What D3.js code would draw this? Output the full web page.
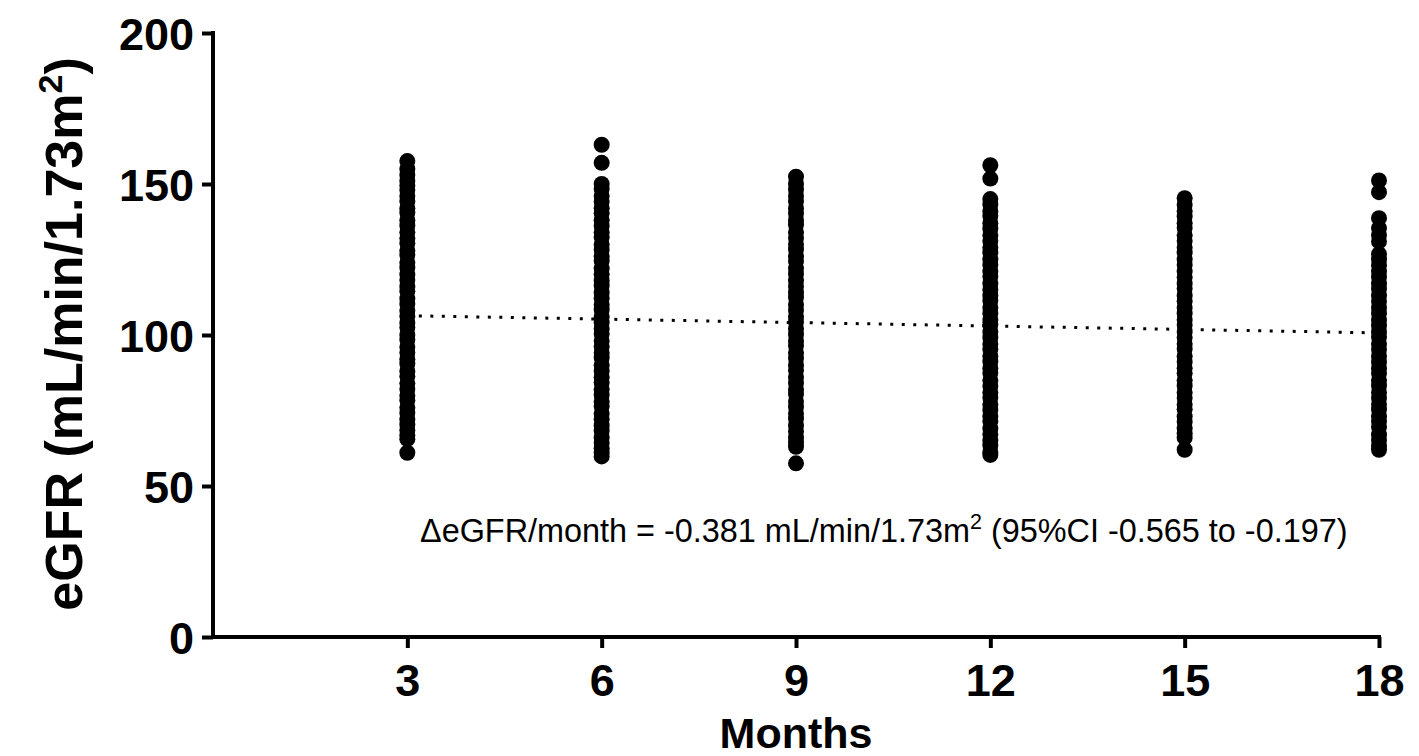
<!DOCTYPE html>
<html>
<head>
<meta charset="utf-8">
<script src="https://cdn.jsdelivr.net/npm/d3@7"></script>
<style>
  body { margin: 0; background: #fff; }
  svg { display: block; font-family: "Liberation Sans", Arial, sans-serif; }
</style>
</head>
<body>
<div class="chart"></div>
<script>
// eGFR values, one list per visit month
var months = [3, 6, 9, 12, 15, 18];
var egfr3 = [157.6, 155, 153, 151, 149.5, 148, 146, 144.3, 142, 140.5, 138, 136.2, 134, 132, 130.4, 128, 126.5, 124, 122.3, 120, 118.2, 116, 114.5, 112, 110.3, 108, 106.2, 104, 102.5, 100, 98.4, 96, 94.2, 92, 90.5, 88, 86.3, 84, 82.1, 80, 78.4, 76, 74.2, 72, 70.3, 68.5, 66.8, 65.5, 61];
var egfr6 = [163, 157, 150, 148.4, 146, 144.2, 142, 140.3, 138, 136.1, 134, 132.4, 130, 128.2, 126, 124.5, 122, 120.1, 118, 116.3, 114, 112.2, 110, 108.4, 106, 104.1, 102, 100.3, 98, 96.2, 94, 92.5, 90, 88.1, 86, 84.3, 82, 80.2, 78, 76.4, 74, 72.1, 70, 68.3, 66, 64.2, 62.5, 61, 59.8];
var egfr9 = [152.4, 150, 148.1, 146, 144.3, 142, 140.2, 138, 136.5, 134, 132.1, 130, 128.3, 126, 124.4, 122, 120.2, 118, 116.1, 114, 112.4, 110, 108.2, 106, 104.3, 102, 100.1, 98, 96.4, 94, 92.2, 90, 88.3, 86, 84.1, 82, 80.5, 78, 76.2, 74, 72.3, 70, 68.1, 66, 64.5, 63, 57.5];
var egfr12 = [156.2, 151.8, 145, 143.2, 141, 139.4, 137, 135.2, 133, 131.1, 129, 127.3, 125, 123.2, 121, 119.4, 117, 115.1, 113, 111.3, 109, 107.2, 105, 103.4, 101, 99.1, 97, 95.3, 93, 91.2, 89, 87.4, 85, 83.1, 81, 79.3, 77, 75.2, 73, 71.4, 69, 67.1, 65, 63.4, 61.2, 60.3];
var egfr15 = [145.3, 143.1, 141, 139.2, 137, 135.4, 133, 131.1, 129, 127.3, 125, 123.2, 121, 119.1, 117, 115.4, 113, 111.2, 109, 107.1, 105, 103.3, 101, 99.2, 97, 95.4, 93, 91.1, 89, 87.3, 85, 83.2, 81, 79.1, 77, 75.4, 73, 71.2, 69, 67.5, 66, 62];
var egfr18 = [151.2, 147.3, 138.7, 135.4, 133.1, 131, 126.8, 125, 123.1, 121, 119.2, 117, 115.3, 113, 111.1, 109, 107.2, 105, 103.1, 101, 99.3, 97, 95.2, 93, 91.1, 89, 87.3, 85, 83.2, 81, 79.1, 77, 75.3, 73, 71.4, 69.5, 67, 65.2, 63.3, 62];
var yTicks = [0, 50, 100, 150, 200];

// linear fit shown as dotted line
var trendMonths = [3, 18];
var trendValues = [106.4, 100.7];

var columns = [egfr3, egfr6, egfr9, egfr12, egfr15, egfr18];
var points = [];
for (i = 0; i < months.length; i++) {
  columns[i].forEach(function(v) { points.push({month: months[i], egfr: v}); });
}

var width = 1419, height = 756;

var svg = d3.select(".chart")
  .append("svg")
    .attr("width", width)
    .attr("height", height);

var x = d3.scaleLinear()
  .domain([0, 18])
  .range([213, 1379]);

var y = d3.scaleLinear()
  .domain([0, 200])
  .range([637, 33]);

// X axis
var gx = svg.append("g")
  .attr("transform", "translate(0," + y(0) + ")")
  .call(d3.axisBottom(x).tickValues(months).tickSize(11).tickSizeOuter(0).tickPadding(16));
gx.select(".domain")
  .attr("d", "M" + (x(0) - 2) + ",0H" + (x(18) + 2))
  .attr("stroke", "#000")
  .attr("stroke-width", 4);
gx.selectAll(".tick line").attr("stroke", "#000").attr("stroke-width", 4);
gx.selectAll(".tick text")
  .attr("fill", "#000")
  .style("font-size", "45px")
  .style("font-weight", "bold");

// Y axis
var gy = svg.append("g")
  .attr("transform", "translate(" + x(0) + ",0)")
  .call(d3.axisLeft(y).tickValues(yTicks).tickSize(11).tickSizeOuter(0).tickPadding(8));
gy.select(".domain")
  .attr("d", "M0," + (y(200) - 2) + "V" + (y(0) + 2))
  .attr("stroke", "#000")
  .attr("stroke-width", 4);
gy.selectAll(".tick line").attr("stroke", "#000").attr("stroke-width", 4);
gy.selectAll(".tick text")
  .attr("fill", "#000")
  .attr("dy", "0.36em")
  .style("font-size", "45px")
  .style("font-weight", "bold");

// Dots
svg.selectAll("circle")
  .data(points)
  .enter()
  .append("circle")
    .attr("cx", function(d) { return x(d.month); })
    .attr("cy", function(d) { return y(d.egfr); })
    .attr("r", 8)
    .attr("fill", "#000");

// Trend line
var line = d3.line()
  .x(function(d) { return x(d[0]); })
  .y(function(d) { return y(d[1]); });
svg.append("path")
  .datum(trendMonths.map(function(m, i) { return [m, trendValues[i]]; }))
  .attr("d", line)
  .attr("fill", "none")
  .attr("stroke", "#000")
  .attr("stroke-width", 3)
  .attr("stroke-dasharray", "3 8.5");

// Annotation
var note = svg.append("text")
  .attr("x", 420)
  .attr("y", 542)
  .style("font-size", "32.4px")
  .attr("fill", "#000");
note.append("tspan").text("\u0394eGFR/month = -0.381 mL/min/1.73m");
note.append("tspan").attr("dy", -13).style("font-size", "21.5px").text("2");
note.append("tspan").attr("dy", 13).text(" (95%CI -0.565 to -0.197)");

// Axis titles
svg.append("text")
  .attr("x", 796)
  .attr("y", 748)
  .attr("text-anchor", "middle")
  .style("font-size", "43px")
  .style("font-weight", "bold")
  .text("Months");

var yl = svg.append("text")
  .attr("transform", "translate(82," + 334 + ") rotate(-90)")
  .attr("text-anchor", "middle")
  .style("font-size", "52px")
  .style("font-weight", "bold");
yl.append("tspan").text("eGFR (mL/min/1.73m");
yl.append("tspan").attr("dy", -20).style("font-size", "34px").text("2");
yl.append("tspan").attr("dy", 20).text(")");
</script>
</body>
</html>
